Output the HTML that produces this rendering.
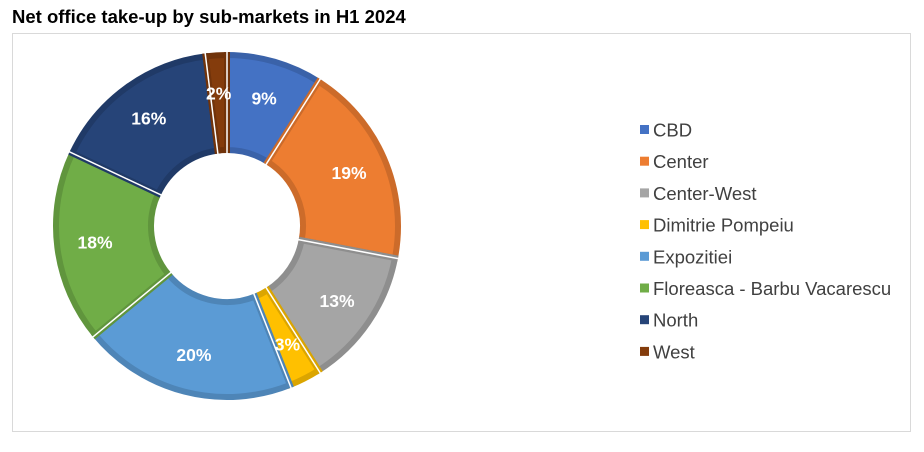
<!DOCTYPE html>
<html><head><meta charset="utf-8"><style>
body{margin:0;background:#fff;width:924px;height:452px;overflow:hidden;font-family:"Liberation Sans",Arial,sans-serif}
#title{position:absolute;left:12px;top:6px;font-size:18.5px;font-weight:bold;color:#000}
#frame{position:absolute;left:12px;top:33px;width:899px;height:399px;border:1px solid #d9d9d9;box-sizing:border-box}
svg{position:absolute;left:0;top:0}
</style></head><body>
<div id="title">Net office take-up by sub-markets in H1 2024</div>
<div id="frame"></div>
<svg id="chart" width="924" height="452"></svg>
<script>
const categories=["CBD","Center","Center-West","Dimitrie Pompeiu","Expozitiei","Floreasca - Barbu Vacarescu","North","West"];
const values=[9,19,13,3,20,18,16,2];
const labels=["9%","19%","13%","3%","20%","18%","16%","2%"];
const colors=["#4472c4","#ed7d31","#a5a5a5","#ffc000","#5b9bd5","#70ad47","#264478","#843c0c"];
const strokes=["#3a62a9","#cc6b2a","#8e8e8e","#dba500","#4e85b7","#60953d","#203a67","#71330a"];
const NS="http://www.w3.org/2000/svg";
const svg=document.getElementById('chart');
const cx=227,cy=226,R=171,r=76;
const total=values.reduce((a,b)=>a+b,0);
function pt(a,rad){return [cx+rad*Math.sin(a),cy-rad*Math.cos(a)];}
let acc=0;
const bounds=[];
values.forEach((v,i)=>{
  const a0=acc/total*2*Math.PI;acc+=v;const a1=acc/total*2*Math.PI;
  bounds.push(a0);
  const lg=(a1-a0)>Math.PI?1:0;
  const p1=pt(a0,R),p2=pt(a1,R),p3=pt(a1,r),p4=pt(a0,r);
  const p=document.createElementNS(NS,'path');
  p.setAttribute('d',`M${p1}A${R},${R} 0 ${lg} 1 ${p2}L${p3}A${r},${r} 0 ${lg} 0 ${p4}Z`);
  p.setAttribute('fill',colors[i]);p.setAttribute('stroke',strokes[i]);p.setAttribute('stroke-width','6');p.setAttribute('stroke-linejoin','miter');
  
  
  svg.appendChild(p);
});
bounds.forEach(a=>{
  const q1=pt(a,r-4),q2=pt(a,R+4);
  const l=document.createElementNS(NS,'line');
  l.setAttribute('x1',q1[0]);l.setAttribute('y1',q1[1]);l.setAttribute('x2',q2[0]);l.setAttribute('y2',q2[1]);
  l.setAttribute('stroke','#fff');l.setAttribute('stroke-width','1.5');
  
  
  svg.appendChild(l);
});
acc=0;
values.forEach((v,i)=>{
  const a0=acc/total*2*Math.PI;acc+=v;const a1=acc/total*2*Math.PI;
  const m=(a0+a1)/2,lp=pt(m,133);
  const t=document.createElementNS(NS,'text');
  t.setAttribute('x',lp[0]);t.setAttribute('y',lp[1]+6);t.setAttribute('text-anchor','middle');
  t.setAttribute('font-size','17.5');t.setAttribute('font-weight','bold');t.setAttribute('fill','#fff');
  
  
  t.textContent=labels[i];svg.appendChild(t);
});
categories.forEach((c,i)=>{
  const y=130+i*31.7;
  const g=document.createElementNS(NS,'g');
  
  
  const s=document.createElementNS(NS,'rect');
  s.setAttribute('x',640);s.setAttribute('y',y-5);s.setAttribute('width',9);s.setAttribute('height',9);s.setAttribute('fill',colors[i]);
  const t=document.createElementNS(NS,'text');
  t.setAttribute('x',653);t.setAttribute('y',y+6.5);t.setAttribute('font-size','18.5');t.setAttribute('fill','#404040');
  t.textContent=c;
  g.appendChild(s);g.appendChild(t);svg.appendChild(g);
});
</script>
</body></html>
